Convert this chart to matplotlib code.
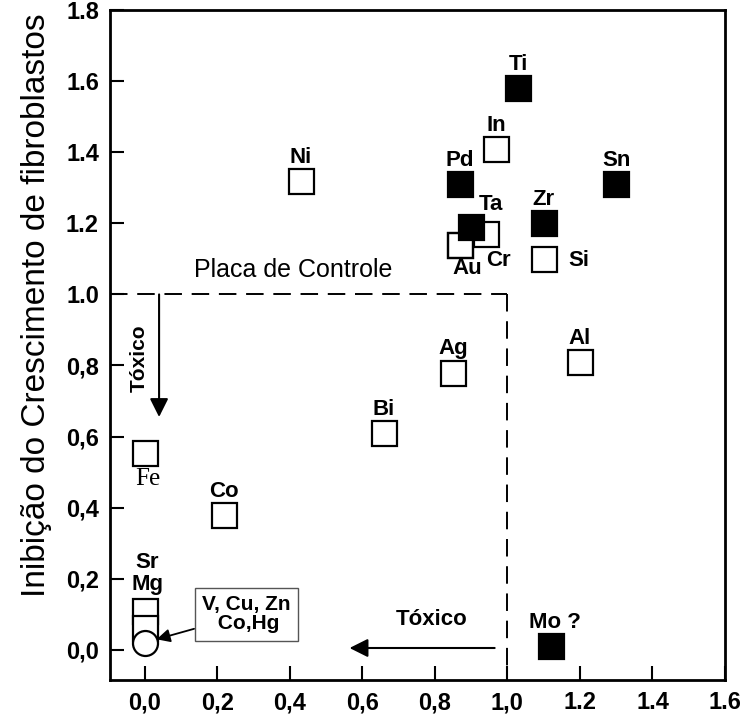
import matplotlib
matplotlib.use("Agg")
import matplotlib.pyplot as plt

plt.rcParams['font.family'] = ['Liberation Sans', 'DejaVu Sans']

# open squares
open_names = ['Ni', 'In', 'Cr', 'Au', 'Si', 'Ag', 'Al', 'Bi', 'Fe', 'Co', 'SrMg', '']
open_x = [0.43, 0.97, 0.94, 0.87, 1.10, 0.85, 1.20, 0.66, 0.0, 0.22, 0.0, 0.0]
open_y = [1.32, 1.41, 1.17, 1.14, 1.10, 0.78, 0.81, 0.61, 0.555, 0.38, 0.11, 0.06]

# filled squares
filled_names = ['Ti', 'Pd', 'Sn', 'Zr', 'Ta', 'Mo ?']
filled_x = [1.03, 0.87, 1.30, 1.10, 0.90, 1.12]
filled_y = [1.58, 1.31, 1.31, 1.20, 1.19, 0.01]

# circle (V, Cu, Zn, Co, Hg)
circle_x = [0.0]
circle_y = [0.02]

xticks = [0.0, 0.2, 0.4, 0.6, 0.8, 1.0, 1.2, 1.4, 1.6]
xticklabels = ['0,0', '0,2', '0,4', '0,6', '0,8', '1,0', '1.2', '1.4', '1.6']
yticks = [0.0, 0.2, 0.4, 0.6, 0.8, 1.0, 1.2, 1.4, 1.6, 1.8]
yticklabels = ['0,0', '0,2', '0,4', '0,6', '0,8', '1.0', '1.2', '1.4', '1.6', '1.8']

control = 1.0

fig = plt.figure(figsize=(7.49, 7.23), dpi=100)
ax = fig.add_axes([0.147, 0.0595, 0.821, 0.9265])
xmin, xmax, ymin, ymax = -0.095, 1.6, -0.085, 1.8
ax.set_xlim(xmin, xmax)
ax.set_ylim(ymin, ymax)

# control plate dashed box
ax.plot([xmin, control], [control, control], color='black', lw=1.4, dashes=(9, 5), zorder=1)
ax.plot([control, control], [control, ymin], color='black', lw=1.4, dashes=(9, 5), zorder=1)
ax.text(0.41, 1.035, 'Placa de Controle', ha='center', va='bottom', fontsize=18)

ms = 18
for i in range(len(open_x)):
    ax.plot(open_x[i], open_y[i], marker='s', ms=ms, mfc='white', mec='black', mew=1.6,
            ls='none', zorder=3)
ax.plot(circle_x, circle_y, marker='o', ms=18, mfc='white', mec='black', mew=1.6, ls='none', zorder=4)
for i in range(len(filled_x)):
    ax.plot(filled_x[i], filled_y[i], marker='s', ms=ms, mfc='black', mec='black', mew=1.6,
            ls='none', zorder=3.5)
# Au outline over Ta
ax.plot(open_x[3], open_y[3], marker='s', ms=ms, mfc='none', mec='black', mew=1.6, ls='none', zorder=3.6)

lab = dict(fontsize=16, fontweight='bold', ha='center', va='center', textcoords='offset points')
offsets = {'Ni': (0, 17), 'In': (0, 17), 'Cr': (9, -19), 'Au': (5, -17), 'Si': (25, -1),
           'Ag': (0, 17), 'Al': (0, 17), 'Bi': (0, 17), 'Co': (0, 17),
           'Ti': (0, 17), 'Pd': (0, 17), 'Sn': (0, 17), 'Zr': (0, 17), 'Ta': (14, 16), 'Mo ?': (3, 17)}
for n, x, y in zip(open_names + filled_names, open_x + filled_x, open_y + filled_y):
    if n in offsets:
        ax.annotate(n, (x, y), xytext=offsets[n], **lab)
ax.annotate('Fe', (open_x[8], open_y[8]), xytext=(2, -19), textcoords='offset points',
            ha='center', va='center', fontsize=18, family='Liberation Serif')
ax.annotate('Sr', (open_x[10], open_y[10]), xytext=(2, 35), **lab)
ax.annotate('Mg', (open_x[10], open_y[10]), xytext=(2, 19), **lab)

# box label for circle
ax.annotate('V, Cu, Zn\n Co,Hg', (circle_x[0], circle_y[0]), xytext=(0.28, 0.10),
            textcoords='data', ha='center', va='center', fontsize=15, fontweight='bold',
            linespacing=1.0,
            bbox=dict(boxstyle='square,pad=0.35', fc='white', ec='#555555', lw=1.0),
            arrowprops=dict(arrowstyle='-|>', color='black', lw=1.3, mutation_scale=20,
                            shrinkA=0, shrinkB=9))

# Tóxico arrows
ax.annotate('', xy=(0.04, 0.655), xytext=(0.04, 1.0),
            arrowprops=dict(arrowstyle='-|>', color='black', lw=1.5, mutation_scale=28, shrinkA=0, shrinkB=0))
ax.text(-0.014, 0.82, 'Tóxico', rotation=90, ha='center', va='center', fontsize=15, fontweight='bold')
ax.annotate('', xy=(0.565, 0.005), xytext=(0.965, 0.005),
            arrowprops=dict(arrowstyle='-|>', color='black', lw=1.5, mutation_scale=28, shrinkA=0, shrinkB=0))
ax.text(0.79, 0.085, 'Tóxico', ha='center', va='center', fontsize=16, fontweight='bold')

ax.set_xticks(xticks)
ax.set_xticklabels(xticklabels, fontsize=17, fontweight='bold')
ax.set_yticks(yticks)
ax.set_yticklabels(yticklabels, fontsize=17, fontweight='bold')
ax.tick_params(direction='in', length=10, width=1.5, pad=8)
for s in ax.spines.values():
    s.set_linewidth(2)
ax.set_ylabel('Inibição do Crescimento de fibroblastos', fontsize=24)
ax.yaxis.set_label_coords(-0.095, 0.56)

fig.savefig('out.png', dpi=100)
